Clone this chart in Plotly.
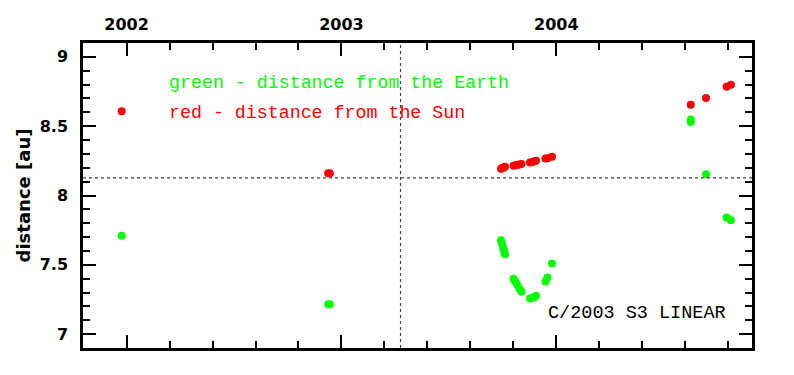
import plotly.graph_objects as go

# --- data (decimal years, distances in au) ---
t_obs = [2001.977, 2002.938, 2002.946,
         2003.7426, 2003.7472, 2003.7519, 2003.7565, 2003.7612,
         2003.8007, 2003.8101, 2003.8194, 2003.8287, 2003.8380,
         2003.8776, 2003.8869, 2003.8962, 2003.9055,
         2003.9497, 2003.9590, 2003.9800,
         2004.626, 2004.697, 2004.793, 2004.813]
r_sun = [8.608, 8.161, 8.161,
         8.193, 8.197, 8.200, 8.204, 8.207,
         8.215, 8.218, 8.221, 8.224, 8.227,
         8.238, 8.242, 8.246, 8.250,
         8.266, 8.269, 8.279,
         8.654, 8.704, 8.784, 8.798]
t_earth = [2001.977, 2002.938, 2002.946,
           2003.7426, 2003.7472, 2003.7519, 2003.7565, 2003.7612,
           2003.8007, 2003.8101, 2003.8194, 2003.8287, 2003.8380,
           2003.8776, 2003.8869, 2003.8962, 2003.9055,
           2003.9497, 2003.9590, 2003.9800,
           2004.626, 2004.626, 2004.697, 2004.793, 2004.813]
delta_earth = [7.709, 7.216, 7.216,
               7.678, 7.652, 7.627, 7.602, 7.577,
               7.400, 7.378, 7.352, 7.328, 7.305,
               7.257, 7.260, 7.266, 7.276,
               7.380, 7.408, 7.509,
               8.530, 8.548, 8.154, 7.841, 7.822]
perihelion_q = 8.127
perihelion_t = 2003.275
year_ticks = [2002, 2003, 2004]
x_range = [2001.797, 2004.911]
y_range = [6.9, 9.1]

RED = "#ff0000"
GREEN = "#00ff00"

fig = go.Figure()
fig.add_trace(go.Scatter(x=t_obs, y=r_sun, mode="markers",
                         marker=dict(color=RED, size=8, line=dict(width=0)),
                         showlegend=False, hoverinfo="skip"))
fig.add_trace(go.Scatter(x=t_earth, y=delta_earth, mode="markers",
                         marker=dict(color=GREEN, size=8, line=dict(width=0)),
                         showlegend=False, hoverinfo="skip"))

fig.add_shape(type="line", xref="x", yref="paper", x0=perihelion_t, x1=perihelion_t,
              y0=0, y1=1, line=dict(color="#444444", width=1.2, dash="dot"))
fig.add_shape(type="line", xref="paper", yref="y", x0=0, x1=1,
              y0=perihelion_q, y1=perihelion_q, line=dict(color="#444444", width=1.2, dash="dot"))

mono = "Liberation Mono"
fig.add_annotation(text="green - distance from the Earth", xref="paper", yref="paper",
                   x=0.125, y=0.869, xanchor="left", yanchor="middle", showarrow=False,
                   font=dict(family=mono, size=18.3, color=GREEN))
fig.add_annotation(text="red - distance from the Sun", xref="paper", yref="paper",
                   x=0.125, y=0.7695, xanchor="left", yanchor="middle", showarrow=False,
                   font=dict(family=mono, size=18.3, color=RED))
fig.add_annotation(text="C/2003 S3 LINEAR", xref="paper", yref="paper",
                   x=0.9646, y=0.1138, xanchor="right", yanchor="middle", showarrow=False,
                   font=dict(family=mono, size=18.5, color="black"))

tickfont = dict(family="DejaVu Sans", size=16, color="black", weight="bold")
titlefont = dict(family="DejaVu Sans", size=18, color="black", weight="bold")
fig.update_xaxes(range=x_range, side="top", tickmode="array", tickvals=year_ticks,
                 ticktext=[str(v) for v in year_ticks],
                 ticks="inside", ticklen=13, tickwidth=2, tickcolor="black",
                 ticklabelstandoff=4,
                 minor=dict(dtick=0.2, tick0=2002, ticks="inside", ticklen=7,
                            tickwidth=2, tickcolor="black"),
                 showline=True, linewidth=2.5, linecolor="black", mirror="ticks",
                 showgrid=False, zeroline=False, tickfont=tickfont)
fig.update_yaxes(range=y_range, dtick=0.5, tick0=7,
                 ticks="inside", ticklen=13, tickwidth=2, tickcolor="black",
                 ticklabelstandoff=9,
                 minor=dict(dtick=0.1, tick0=7, ticks="inside", ticklen=7,
                            tickwidth=2, tickcolor="black"),
                 showline=True, linewidth=2.5, linecolor="black", mirror="ticks",
                 showgrid=False, zeroline=False, tickfont=tickfont,
                 title=dict(text="distance [au]", font=titlefont, standoff=5))

# page body has an 8px default margin: size the figure so the plot frame lands
# where the reference has it (left 83, right 752, top 43, bottom 348)
fig.update_layout(width=786, height=367, margin=dict(l=75, r=42, t=35, b=27, autoexpand=False),
                  plot_bgcolor="white", paper_bgcolor="white", showlegend=False)
fig.write_html("out.html")
